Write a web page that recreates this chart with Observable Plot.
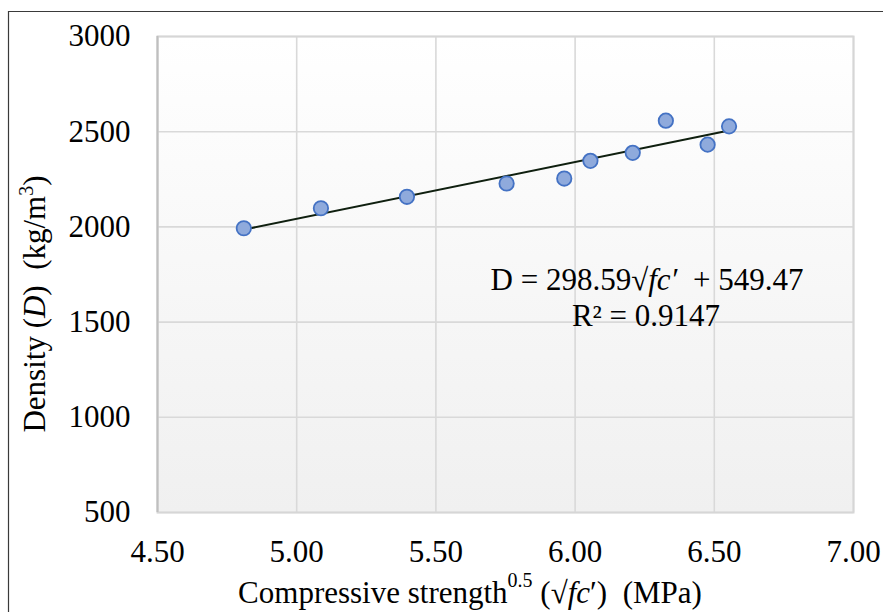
<!DOCTYPE html>
<html>
<head>
<meta charset="utf-8">
<script src="https://cdn.jsdelivr.net/npm/d3@7"></script>
<script src="https://cdn.jsdelivr.net/npm/@observablehq/plot@0.6"></script>
<style>
  html, body { margin: 0; padding: 0; background: #ffffff; }
  #chart { position: relative; width: 883px; height: 612px; overflow: hidden; }
</style>
</head>
<body>
<div id="chart"></div>
<script>
// ---- data ----
const sqrtFc = [4.81, 5.087, 5.396, 5.754, 5.961, 6.055, 6.207, 6.326, 6.476, 6.553];
const density = [1993, 2098, 2158, 2228, 2254, 2347, 2389, 2558, 2432, 2528];
const slope = 298.59;
const intercept = 549.47;
const rSquared = "0.9147";
const xTicks = [4.5, 5.0, 5.5, 6.0, 6.5, 7.0];
const yTicks = [500, 1000, 1500, 2000, 2500, 3000];

const points = sqrtFc.map((v, i) => ({x: v, y: density[i]}));
const xMin = d3.min(sqrtFc), xMax = d3.max(sqrtFc);
const trend = [xMin, xMax].map(v => ({x: v, y: slope * v + intercept}));

const FONT = "'Liberation Serif', 'Times New Roman', serif";

const svg = Plot.plot({
  width: 883,
  height: 612,
  marginLeft: 157,
  marginRight: 30,
  marginTop: 36,
  marginBottom: 100,
  style: {fontFamily: FONT, fontSize: "31px", background: "transparent", color: "#000"},
  x: {domain: [4.5, 7.0]},
  y: {domain: [500, 3000]},
  marks: [
    Plot.frame({fill: "url(#plotBg)", stroke: null}),
    Plot.gridX(xTicks, {stroke: "#d9d9d9", strokeOpacity: 1, strokeWidth: 1.6}),
    Plot.gridY(yTicks, {stroke: "#d9d9d9", strokeOpacity: 1, strokeWidth: 1.6}),
    Plot.frame({stroke: "#d6d6d6", strokeWidth: 2}),
    Plot.ruleX([4.5], {stroke: "#bfbfbf", strokeWidth: 2}),
    Plot.axisX(xTicks, {tickSize: 0, tickPadding: 27, tickFormat: d3.format(".2f"), label: null, fill: "#000", fontFamily: FONT, fontSize: 31}),
    Plot.axisY(yTicks, {tickSize: 0, tickPadding: 27, tickFormat: d => String(d), label: null, fill: "#000", fontFamily: FONT, fontSize: 31}),
    Plot.line(trend, {x: "x", y: "y", stroke: "#0f1f0f", strokeWidth: 2}),
    Plot.dot(points, {x: "x", y: "y", r: 7.2, fill: "#8faadc", stroke: "#4472c4", strokeWidth: 1.8})
  ]
});

document.getElementById("chart").appendChild(svg);

const s = d3.select(svg);
// gradient for plot background
const defs = s.insert("defs", ":first-child");
const grad = defs.append("linearGradient").attr("id", "plotBg")
  .attr("x1", 0).attr("y1", 0).attr("x2", 0).attr("y2", 1);
grad.append("stop").attr("offset", "0%").attr("stop-color", "#ffffff");
grad.append("stop").attr("offset", "100%").attr("stop-color", "#f0f0f0");

// outer chart border (left and top visible)
s.append("path").attr("d", "M8.5,612 V11.5 H883")
  .attr("fill", "none").attr("stroke", "#3a3a3a").attr("stroke-width", 1.2);

// equation annotation
const eq = s.append("text").attr("x", 647).attr("y", 290)
  .attr("text-anchor", "middle").attr("font-family", FONT).attr("font-size", 31)
  .attr("fill", "#000").style("white-space", "pre");
eq.append("tspan").text("D = " + slope.toFixed(2) + "\u221A");
eq.append("tspan").attr("font-style", "italic").text("fc\u2032");
eq.append("tspan").text("  + " + intercept.toFixed(2));

s.append("text").attr("x", 646).attr("y", 326)
  .attr("text-anchor", "middle").attr("font-family", FONT).attr("font-size", 31)
  .attr("fill", "#000").text("R\u00B2 = " + rSquared);

// x axis title
const xt = s.append("text").attr("x", 470).attr("y", 603)
  .attr("text-anchor", "middle").attr("font-family", FONT).attr("font-size", 31)
  .attr("fill", "#000").style("white-space", "pre");
xt.append("tspan").text("Compressive strength");
xt.append("tspan").attr("font-size", 20).attr("dy", -16).text("0.5");
xt.append("tspan").attr("dy", 16).text(" (\u221A");
xt.append("tspan").attr("font-style", "italic").text("fc");
xt.append("tspan").text("\u2032)  (MPa)");

// y axis title
const yt = s.append("text").attr("transform", "translate(45,304) rotate(-90)")
  .attr("text-anchor", "middle").attr("font-family", FONT).attr("font-size", 31)
  .attr("fill", "#000").style("white-space", "pre");
yt.append("tspan").text("Density (");
yt.append("tspan").attr("font-style", "italic").text("D");
yt.append("tspan").text(")  (kg/m");
yt.append("tspan").attr("font-size", 20).attr("dy", -12).text("3");
yt.append("tspan").attr("dy", 12).text(")");
</script>
</body>
</html>
